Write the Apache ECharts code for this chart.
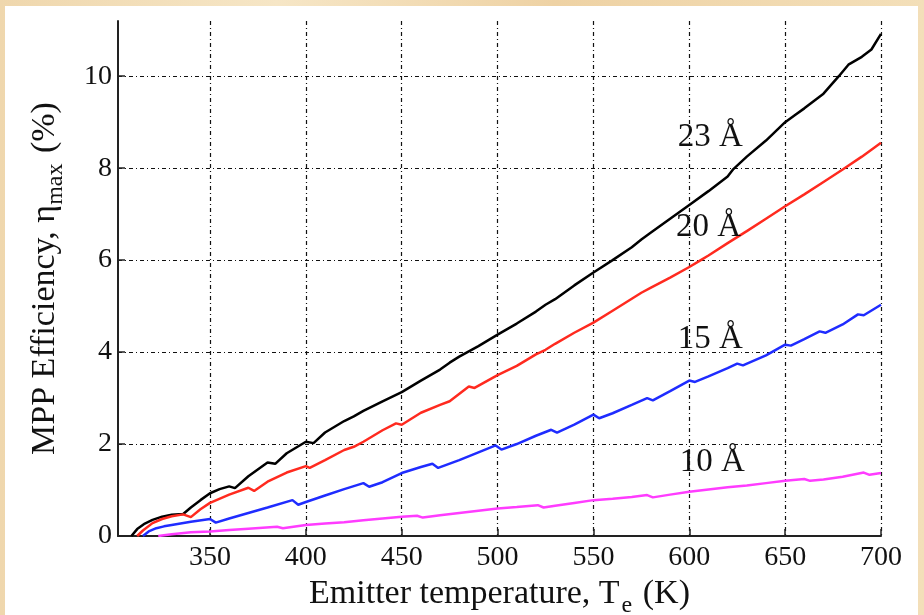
<!DOCTYPE html>
<html>
<head>
<meta charset="utf-8">
<script src="https://cdn.jsdelivr.net/npm/echarts@6/dist/echarts.min.js"></script>
<style>
  html, body { margin: 0; padding: 0; width: 924px; height: 615px; overflow: hidden; }
  body { background: linear-gradient(90deg, #efd7ad 0%, #f6e6c6 30%, #eed2a4 60%, #f3dfb9 100%); position: relative; }
  #chart { position: absolute; left: 5px; top: 6px; width: 913px; height: 609px; background: #fff; }
</style>
</head>
<body>
<div id="chart"></div>
<script>
// tick positions
const xTicks = [350, 400, 450, 500, 550, 600, 650, 700];
const yTicks = [0, 2, 4, 6, 8, 10];

// 23 Å (black)
const temps23 = [309, 312, 316, 320, 325, 330, 336, 340, 345, 350, 355, 360, 363, 370, 380, 384, 390, 400, 404, 410, 420, 425, 430, 440, 450, 460, 470, 475, 480, 490, 500, 510, 520, 525, 530, 540, 550, 560, 570, 575, 580, 590, 600, 610, 620, 623, 630, 640, 650, 655, 660, 670, 678, 683, 690, 695, 700];
const eff23 = [0, 0.15, 0.27, 0.35, 0.42, 0.46, 0.48, 0.62, 0.78, 0.93, 1.02, 1.08, 1.04, 1.3, 1.6, 1.57, 1.8, 2.05, 2.02, 2.25, 2.5, 2.6, 2.72, 2.93, 3.13, 3.38, 3.62, 3.77, 3.9, 4.13, 4.38, 4.62, 4.88, 5.03, 5.15, 5.45, 5.73, 6.0, 6.28, 6.45, 6.6, 6.9, 7.2, 7.5, 7.82, 7.98, 8.25, 8.6, 9.0, 9.15, 9.3, 9.62, 10.0, 10.25, 10.42, 10.58, 10.92];

// 20 Å (red)
const temps20 = [312, 315, 320, 325, 330, 336, 340, 345, 350, 360, 370, 373, 380, 390, 400, 402, 410, 420, 425, 430, 440, 447, 450, 460, 470, 475, 485, 488, 500, 510, 520, 525, 530, 540, 550, 560, 575, 580, 590, 600, 606, 610, 620, 630, 640, 650, 660, 670, 680, 690, 700];
const eff20 = [0, 0.12, 0.28, 0.37, 0.43, 0.47, 0.41, 0.58, 0.72, 0.9, 1.05, 0.98, 1.18, 1.38, 1.52, 1.48, 1.65, 1.87, 1.94, 2.05, 2.3, 2.45, 2.42, 2.68, 2.85, 2.93, 3.25, 3.22, 3.5, 3.7, 3.95, 4.05, 4.18, 4.42, 4.64, 4.9, 5.29, 5.4, 5.62, 5.85, 6.0, 6.1, 6.37, 6.63, 6.9, 7.17, 7.43, 7.7, 7.97, 8.25, 8.55];

// 15 Å (blue)
const temps15 = [315, 318, 322, 326, 330, 340, 350, 353, 360, 370, 380, 393, 396, 400, 410, 420, 430, 433, 440, 450, 460, 466, 469, 480, 490, 499, 502, 510, 520, 528, 531, 540, 550, 553, 560, 570, 578, 581, 590, 600, 603, 610, 620, 625, 628, 640, 650, 653, 660, 668, 671, 680, 688, 691, 700];
const eff15 = [0, 0.1, 0.17, 0.21, 0.24, 0.31, 0.37, 0.29, 0.38, 0.5, 0.62, 0.78, 0.68, 0.74, 0.88, 1.02, 1.15, 1.07, 1.17, 1.37, 1.5, 1.57, 1.48, 1.65, 1.82, 1.97, 1.88, 2.0, 2.18, 2.31, 2.25, 2.42, 2.64, 2.56, 2.67, 2.85, 3.0, 2.95, 3.15, 3.38, 3.35, 3.47, 3.65, 3.75, 3.71, 3.93, 4.16, 4.14, 4.28, 4.45, 4.42, 4.6, 4.82, 4.8, 5.03];

// 10 Å (magenta)
const temps10 = [323, 330, 340, 350, 360, 370, 385, 388, 400, 410, 420, 430, 440, 450, 458, 461, 470, 480, 490, 500, 510, 521, 524, 530, 540, 550, 560, 570, 578, 581, 590, 600, 610, 620, 630, 640, 650, 660, 663, 670, 680, 691, 694, 700];
const eff10 = [0, 0.04, 0.08, 0.1, 0.13, 0.16, 0.2, 0.17, 0.24, 0.27, 0.3, 0.34, 0.38, 0.42, 0.44, 0.4, 0.45, 0.5, 0.55, 0.6, 0.63, 0.67, 0.62, 0.66, 0.72, 0.78, 0.81, 0.85, 0.89, 0.84, 0.9, 0.96, 1.01, 1.06, 1.1, 1.15, 1.2, 1.24, 1.2, 1.23, 1.29, 1.38, 1.33, 1.37];

// curve labels: text, temperature, efficiency
const curveLabels = [
  ['23 Å', 611, 8.67],
  ['20 Å', 610, 6.71],
  ['15 Å', 611, 4.27],
  ['10 Å', 612, 1.61]
];

const serif = 'Liberation Serif';
const dashDot = [4, 3, 1, 3];

function pairs(xs, ys) {
  return xs.map(function (x, i) { return [x, ys[i]]; });
}

function lineSeries(name, xs, ys, color, label) {
  return {
    name: name,
    type: 'line',
    data: pairs(xs, ys),
    showSymbol: false,
    silent: true,
    lineStyle: { color: color, width: 2.5 },
    markPoint: {
      symbol: 'circle',
      symbolSize: 0,
      silent: true,
      label: {
        show: true,
        position: 'inside',
        formatter: label[0],
        color: '#111',
        fontFamily: serif,
        fontSize: 33
      },
      data: [{ coord: [label[1], label[2]] }]
    }
  };
}

const chart = echarts.init(document.getElementById('chart'), null, { renderer: 'canvas' });

chart.setOption({
  animation: false,
  backgroundColor: '#fff',
  grid: { left: 113, right: 37, top: 15, bottom: 79, containLabel: false, outerBoundsMode: 'none' },
  xAxis: {
    type: 'value',
    min: 302,
    max: 700,
    name: '{a|Emitter temperature, T}{s|e}{a| (K)}',
    nameLocation: 'middle',
    nameGap: 28,
    nameTextStyle: {
      rich: {
        a: { fontFamily: serif, fontSize: 34, color: '#111' },
        s: { fontFamily: serif, fontSize: 24, color: '#111', padding: [24, 2, 0, 2] }
      }
    },
    axisLine: { show: true, lineStyle: { color: '#222', width: 2 } },
    axisTick: { show: true, inside: true, length: 7, customValues: xTicks, lineStyle: { color: '#222', width: 1.5 } },
    axisLabel: { customValues: xTicks, fontFamily: serif, fontSize: 28, color: '#111', margin: 8 },
    splitLine: { show: true, lineStyle: { color: '#111', width: 1.2, type: dashDot } }
  },
  yAxis: {
    type: 'value',
    min: 0,
    max: 11.2,
    name: '{a|MPP Efficiency, η}{s|max}{a| (%)}',
    nameLocation: 'middle',
    nameRotate: 90,
    nameGap: 50,
    nameTextStyle: {
      rich: {
        a: { fontFamily: serif, fontSize: 34, color: '#111' },
        s: { fontFamily: serif, fontSize: 24, color: '#111', padding: [22, 2, 0, 0] }
      }
    },
    axisLine: { show: true, lineStyle: { color: '#222', width: 2 } },
    axisTick: { show: true, inside: true, length: 7, customValues: yTicks, lineStyle: { color: '#222', width: 1.5 } },
    axisLabel: { customValues: yTicks, fontFamily: serif, fontSize: 28, color: '#111', margin: 6 },
    splitLine: { show: true, lineStyle: { color: '#111', width: 1.2, type: dashDot } }
  },
  series: [
    lineSeries('23 Å', temps23, eff23, '#000000', curveLabels[0]),
    lineSeries('20 Å', temps20, eff20, '#ff2a1f', curveLabels[1]),
    lineSeries('15 Å', temps15, eff15, '#1f2cff', curveLabels[2]),
    lineSeries('10 Å', temps10, eff10, '#ff3cff', curveLabels[3])
  ]
});
</script>
</body>
</html>
